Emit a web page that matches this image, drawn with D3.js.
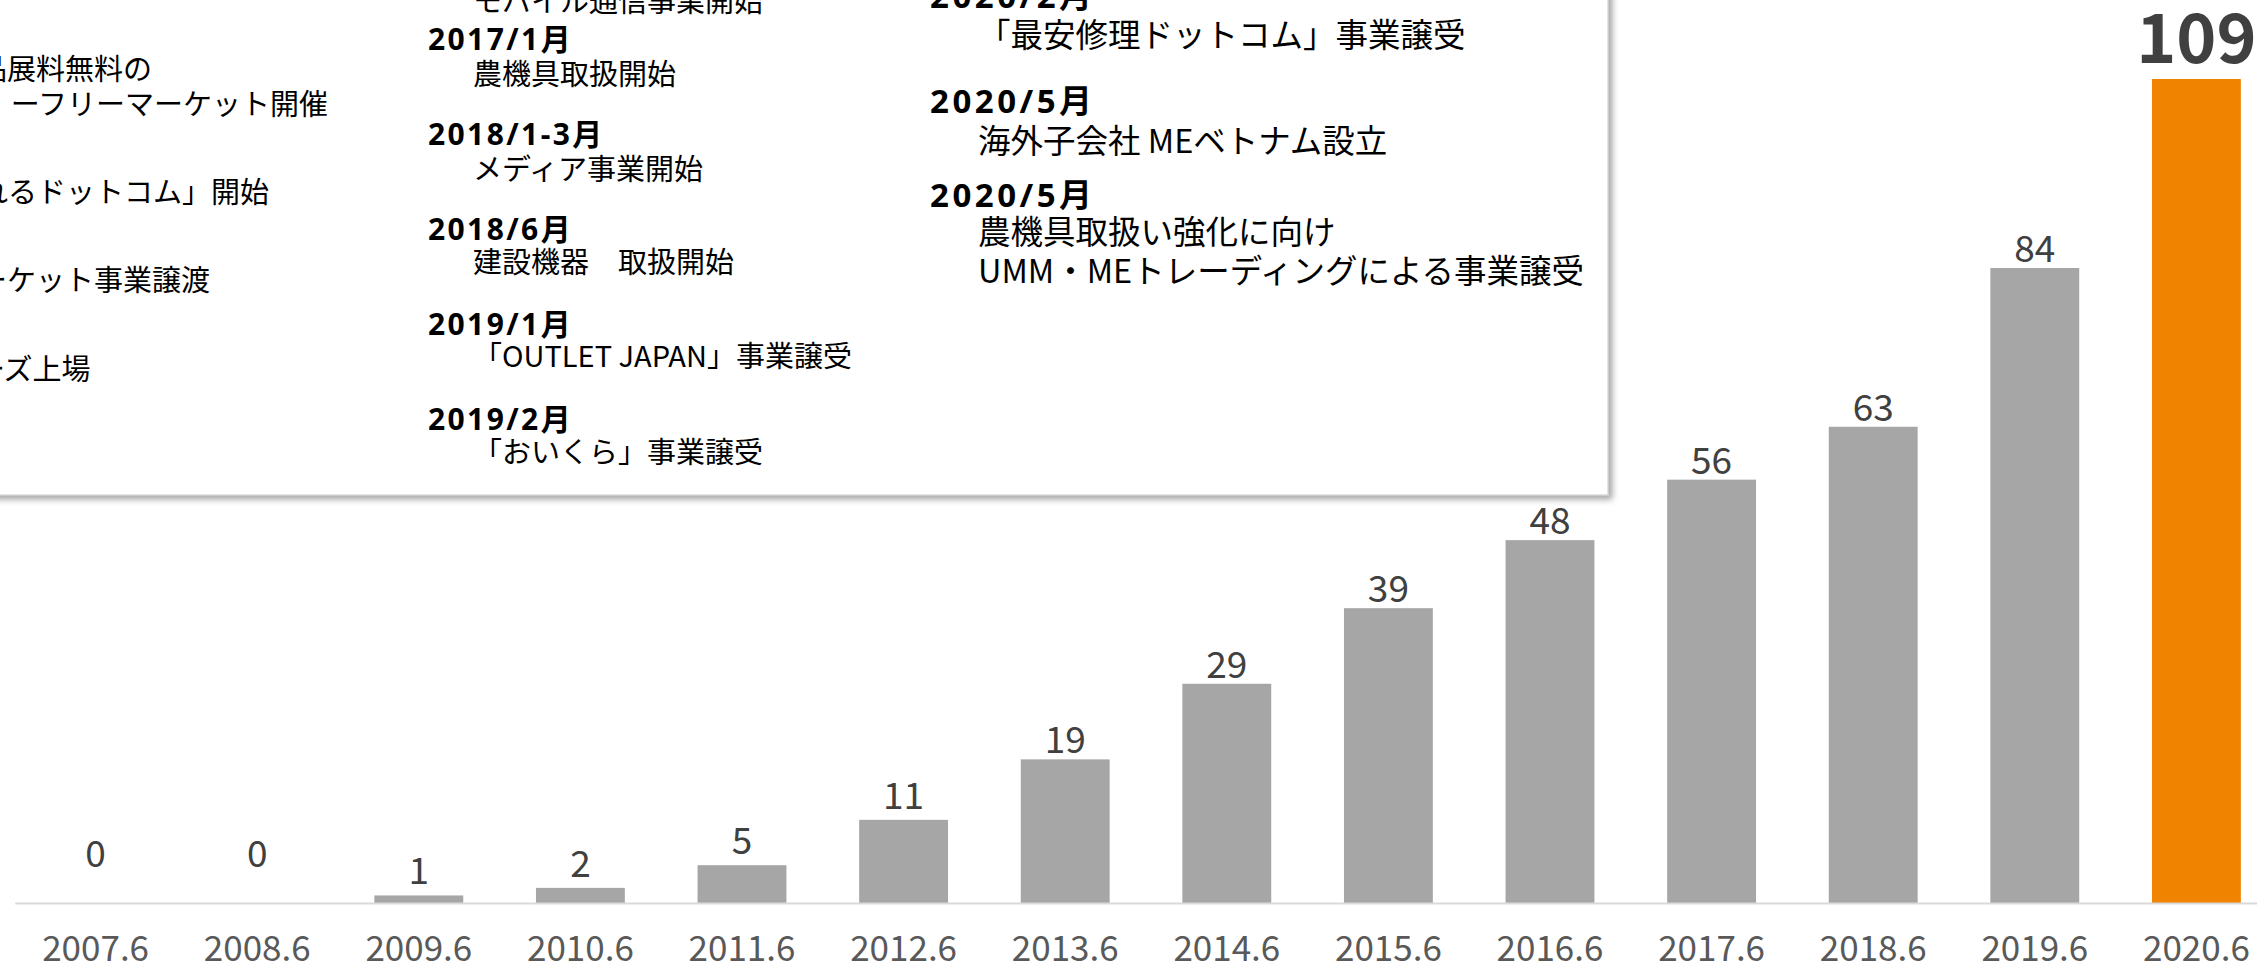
<!DOCTYPE html>
<html>
<head>
<meta charset="utf-8">
<script src="https://cdn.jsdelivr.net/npm/d3@7"></script>
<style>
  body { margin: 0; background: #fff; }
  svg { display: block; }
  text { font-family: "Noto Sans CJK JP", "Noto Sans", sans-serif; }
  .head { font-family: "Noto Sans", "Noto Sans CJK JP", sans-serif; font-weight: bold; }
</style>
</head>
<body>
<div id="chart"></div>
<script>
// store count by fiscal period (June)
const periods = ["2007.6", "2008.6", "2009.6", "2010.6", "2011.6", "2012.6", "2013.6",
                 "2014.6", "2015.6", "2016.6", "2017.6", "2018.6", "2019.6", "2020.6"];
const stores = [0, 0, 1, 2, 5, 11, 19, 29, 39, 48, 56, 63, 84, 109];
const highlightPeriod = "2020.6";

// milestone notes in the box (left column is cut by the page edge)
const notesLeft = ["品展料無料の", "ーフリーマーケット開催", "れるドットコム」開始", "ーケット事業譲渡", "ーズ上場"];
const notesMid = [
  ["", "モバイル通信事業開始"],
  ["2017/1月", "農機具取扱開始"],
  ["2018/1-3月", "メディア事業開始"],
  ["2018/6月", "建設機器　取扱開始"],
  ["2019/1月", "「OUTLET JAPAN」事業譲受"],
  ["2019/2月", "「おいくら」事業譲受"]
];
const notesRight = [
  ["2020/2月", "「最安修理ドットコム」事業譲受"],
  ["2020/5月", "海外子会社 MEベトナム設立"],
  ["2020/5月", "農機具取扱い強化に向け", "UMM・MEトレーディングによる事業譲受"]
];

const width = 2257, height = 964;
const baseY = 903;

const svg = d3.select("#chart").append("svg")
  .attr("width", width)
  .attr("height", height);

const defs = svg.append("defs");
defs.append("filter")
    .attr("id", "shadow")
    .attr("x", "-5%").attr("y", "-5%")
    .attr("width", "110%").attr("height", "115%")
  .append("feDropShadow")
    .attr("dx", 4).attr("dy", 4)
    .attr("stdDeviation", 3)
    .attr("flood-color", "#000")
    .attr("flood-opacity", 0.35);

const x = d3.scaleBand()
  .domain(periods)
  .range([14.8, 2277.2])
  .paddingInner(0.45)
  .paddingOuter(0.225);

const y = d3.scaleLinear()
  .domain([0, 109])
  .range([baseY, 79]);

// bars
svg.append("g")
  .selectAll("rect")
  .data(periods)
  .enter().append("rect")
    .attr("x", d => x(d))
    .attr("width", x.bandwidth())
    .attr("y", (d, i) => y(stores[i]))
    .attr("height", (d, i) => baseY - y(stores[i]))
    .attr("fill", d => d === highlightPeriod ? "#f08300" : "#a6a6a6");

// x axis
const xAxis = svg.append("g")
  .attr("transform", "translate(0," + baseY + ")")
  .call(d3.axisBottom(x).tickSize(0).tickSizeOuter(0));
xAxis.select(".domain")
  .attr("stroke", "#d9d9d9")
  .attr("stroke-width", 2);
xAxis.selectAll("text")
  .attr("y", 58)
  .attr("dy", null)
  .attr("fill", "#595959")
  .attr("font-size", 35)
  .attr("font-family", "Noto Sans CJK JP");

// value labels
svg.append("g")
  .selectAll("text")
  .data(periods.filter(d => d !== highlightPeriod))
  .enter().append("text")
    .attr("x", d => x(d) + x.bandwidth() / 2)
    .attr("y", d => {
      const v = stores[periods.indexOf(d)];
      if (v === 0) return y(0) - 36;
      return y(v) - (v < 15 ? 11 : 6);
    })
    .attr("text-anchor", "middle")
    .attr("font-size", 37)
    .attr("fill", "#404040")
    .text(d => stores[periods.indexOf(d)]);

const hiIndex = periods.indexOf(highlightPeriod);
svg.append("text")
  .attr("x", x(highlightPeriod) + x.bandwidth() / 2)
  .attr("y", y(stores[hiIndex]) - 16)
  .attr("text-anchor", "middle")
  .attr("font-size", 68)
  .attr("font-weight", "bold")
  .attr("fill", "#404040")
  .text(stores[hiIndex]);

// milestone box
svg.append("rect")
  .attr("x", -30)
  .attr("y", -30)
  .attr("width", 1638)
  .attr("height", 525)
  .attr("fill", "#fff")
  .attr("stroke", "#c8c8c8")
  .attr("stroke-width", 1)
  .attr("filter", "url(#shadow)");

const notes = svg.append("g")
  .attr("fill", "#000");

const leftX = [-22, 328, -21, -22, -24];
const leftY = [80, 115, 203, 291, 380];
notesLeft.forEach((t, i) => {
  notes.append("text")
    .attr("x", leftX[i])
    .attr("y", leftY[i])
    .attr("font-size", 29)
    .attr("text-anchor", i === 1 ? "end" : "start")
    .text(t);
});

const midHeadY = [-40, 50, 145, 240, 335, 430];
const midBodyY = [12, 85, 180, 273, 367, 463];
notesMid.forEach((n, i) => {
  if (n[0]) {
    notes.append("text")
      .attr("class", "head")
      .attr("x", 428)
      .attr("y", midHeadY[i])
      .attr("font-size", 30)
      .style("letter-spacing", "2.4px")
      .text(n[0]);
  }
  notes.append("text")
    .attr("x", 473)
    .attr("y", midBodyY[i])
    .attr("font-size", 29)
    .text(n[1]);
});

const rightHeadY = [8, 113, 207];
const rightBodyY = [[47], [153], [244, 283]];
notesRight.forEach((n, i) => {
  notes.append("text")
    .attr("class", "head")
    .attr("x", 930)
    .attr("y", rightHeadY[i])
    .attr("font-size", 33)
    .style("letter-spacing", "3.5px")
    .text(n[0]);
  n.slice(1).forEach((line, j) => {
    notes.append("text")
      .attr("x", 978)
      .attr("y", rightBodyY[i][j])
      .attr("font-size", 32.5)
      .text(line);
  });
});
</script>
</body>
</html>
